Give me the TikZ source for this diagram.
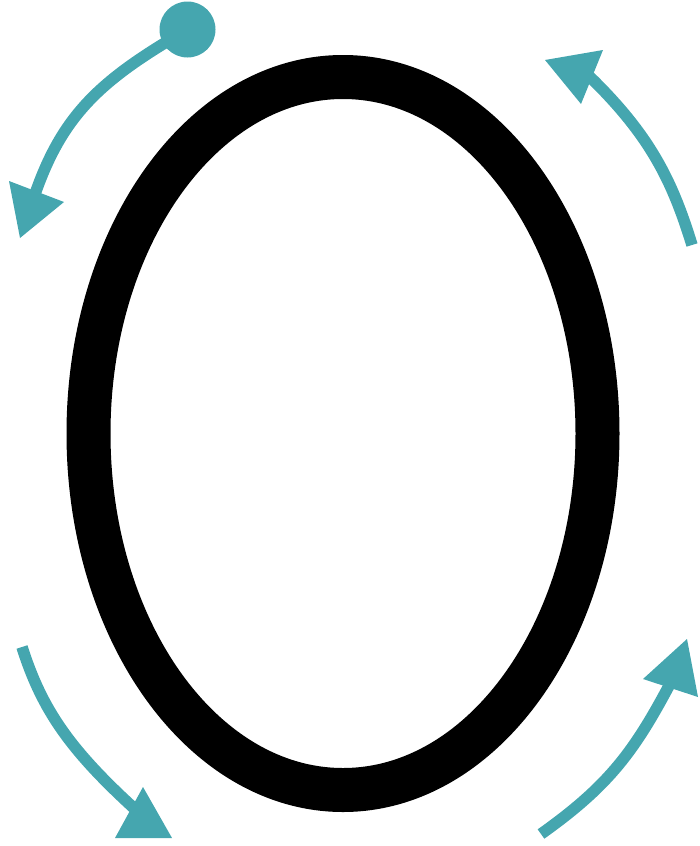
\documentclass[tikz,border=0pt]{standalone}
\definecolor{stroketeal}{RGB}{69,166,175}
\begin{document}
\begin{tikzpicture}[x=1pt,y=-1pt,
  letter/.style={draw=black,line width=44pt},
  guide/.style={draw=stroketeal,line width=11.5pt},
  headtip/.style={fill=stroketeal,draw=none},
  startdot/.style={circle,fill=stroketeal,inner sep=0pt,minimum size=56pt}]
\useasboundingbox (0,0) rectangle (700,846);
\draw[letter] (343,433.5) ellipse [x radius=254.5,y radius=356.5];
% stroke 1 (top left, with start dot)
\coordinate (s1) at (187.5,29.5);
\coordinate (m1) at (34,197);
\coordinate (t1) at (20,238);
\coordinate (l1) at (9,181);
\coordinate (r1) at (64,202);
% stroke 2 (top right)
\coordinate (b2) at (692,245);
\coordinate (m2) at (588,75);
\coordinate (t2) at (545,60);
\coordinate (l2) at (603,50);
\coordinate (r2) at (581,104);
% stroke 3 (bottom left)
\coordinate (b3) at (22,647);
\coordinate (m3) at (137,811);
\coordinate (t3) at (172,838);
\coordinate (l3) at (143,787);
\coordinate (r3) at (115,838);
% stroke 4 (bottom right)
\coordinate (b4) at (541,834);
\coordinate (m4) at (671,682);
\coordinate (t4) at (687,639);
\coordinate (l4) at (643,679);
\coordinate (r4) at (698,697);
\draw[guide] (s1) .. controls (100,80) and (62,115) .. (m1);
\fill[headtip] (t1) -- (l1) -- (r1) -- cycle;
\node[startdot] (dot) at (s1) {};
\draw[guide] (b2) .. controls (672,180) and (650,135) .. (m2);
\fill[headtip] (t2) -- (l2) -- (r2) -- cycle;
\draw[guide] (b3) .. controls (42,710) and (70,750) .. (m3);
\fill[headtip] (t3) -- (l3) -- (r3) -- cycle;
\draw[guide] (b4) .. controls (610,785) and (635,750) .. (m4);
\fill[headtip] (t4) -- (l4) -- (r4) -- cycle;
\end{tikzpicture}
\end{document}
